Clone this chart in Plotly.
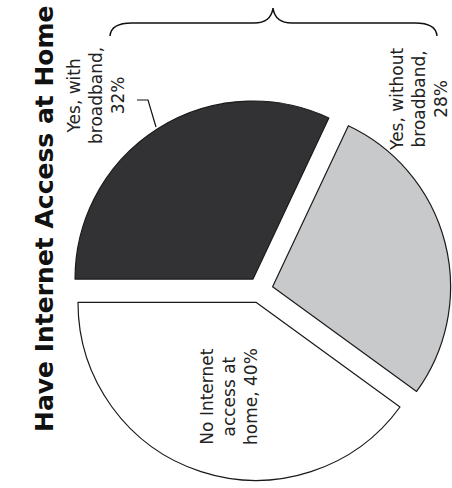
import plotly.graph_objects as go

# Slice data, in drawing order (clockwise from 9 o'clock)
labels = ["Yes, with broadband", "Yes, without broadband", "No Internet access at home"]
values = [32, 28, 40]
colors = ["#323234", "#c8c9cb", "#ffffff"]
label_lines = [
    ["Yes, with", "broadband,", "{v}%"],
    ["Yes, without", "broadband,", "{v}%"],
    ["No Internet", "access at", "home, {v}%"],
]
title_text = "Have Internet Access at Home"

W, H = 452, 488


def px(x, y):
    """Pixel position (from top-left) to paper coordinates."""
    return x / W, 1 - y / H


fig = go.Figure(
    go.Pie(
        labels=labels,
        values=values,
        sort=False,
        direction="clockwise",
        rotation=270,
        pull=[0.073] * len(values),
        marker=dict(colors=colors, line=dict(color="#1a1a1a", width=1.2)),
        textinfo="none",
        hoverinfo="label+percent",
        showlegend=False,
        domain=dict(x=[69 / W, 451 / W], y=[7 / H, 389 / H]),
    )
)

# Slice labels, rotated to read bottom-to-top
label_pos = [(96, 96), (419, 100), (229, 396)]
annotations = []
for lines, v, (lx, ly) in zip(label_lines, values, label_pos):
    ax, ay = px(lx, ly)
    annotations.append(
        dict(
            x=ax, y=ay, xref="paper", yref="paper",
            text="<br>".join(l.format(v=v) for l in lines),
            textangle=-90, showarrow=False,
            font=dict(family="DejaVu Sans", size=17, color="#222222"),
            xanchor="center", yanchor="middle",
        )
    )

tx, ty = px(44, 219)
annotations.append(
    dict(
        x=tx, y=ty, xref="paper", yref="paper",
        text="<b>" + title_text + "</b>",
        textangle=-90, showarrow=False,
        font=dict(family="DejaVu Sans", size=25, color="#111111"),
        xanchor="center", yanchor="middle",
    )
)


def path(points_cmds):
    out = []
    for cmd, pts in points_cmds:
        coords = " ".join("%.5f,%.5f" % px(x, y) for x, y in pts)
        out.append(cmd + " " + coords)
    return " ".join(out)


# Brace grouping the two "Yes" slices
brace = path([
    ("M", [(110, 36)]),
    ("Q", [(111, 23), (132, 23)]),
    ("L", [(254, 23)]),
    ("Q", [(271, 23), (273, 8)]),
    ("Q", [(275, 23), (292, 23)]),
    ("L", [(415, 23)]),
    ("Q", [(436, 23), (437, 36)]),
])

# Leader line from the 32% label to its slice
leader = path([
    ("M", [(137, 100)]),
    ("L", [(148, 100)]),
    ("L", [(156, 127)]),
])

shapes = [
    dict(type="path", path=brace, xref="paper", yref="paper",
         line=dict(color="#111111", width=1.5)),
    dict(type="path", path=leader, xref="paper", yref="paper",
         line=dict(color="#111111", width=1.2)),
]

fig.update_layout(
    width=W, height=H,
    margin=dict(l=0, r=0, t=0, b=0),
    paper_bgcolor="white",
    plot_bgcolor="white",
    annotations=annotations,
    shapes=shapes,
)

fig.write_html("out.html")
